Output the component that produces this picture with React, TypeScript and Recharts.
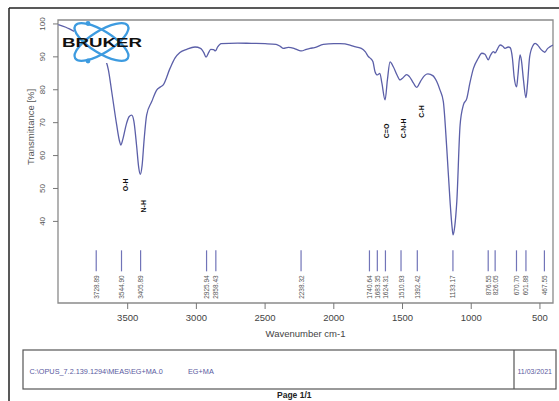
import React from 'react';
import { ComposedChart, Line, XAxis, YAxis, Scatter, ReferenceArea, Label } from 'recharts';

const wavenumbers = [
  4005, 3950, 3900, 3850, 3800, 3728, 3700, 3665, 3640, 3616, 3580, 3560, 3550, 3535, 3510, 3490, 3471,
  3455, 3435, 3420, 3408, 3395, 3380, 3362, 3325, 3289, 3260, 3241, 3192, 3156, 3120, 3070, 3010, 2970,
  2945, 2930, 2912, 2896, 2875, 2862, 2845, 2820, 2700, 2600, 2500, 2420, 2390, 2367, 2331, 2290, 2250,
  2235, 2200, 2173, 2140, 2076, 2000, 1955, 1882, 1840, 1800, 1770, 1749, 1735, 1715, 1700, 1683, 1665,
  1650, 1627, 1610, 1591, 1567, 1540, 1518, 1500, 1470, 1450, 1420, 1397, 1370, 1340, 1315, 1280, 1251,
  1227, 1203, 1178, 1154, 1140, 1132, 1120, 1105, 1081, 1057, 1032, 1010, 984, 950, 923, 900, 876, 860,
  839, 826, 810, 790, 770, 754, 730, 717, 700, 688, 670, 660, 645, 635, 620, 602, 590, 575, 550, 535,
  515, 499, 480, 465, 445, 426, 405,
];
const transmittance = [
  99.8, 99.0, 98.0, 97.2, 96.3, 93.8, 92.6, 89.6, 86.0, 79.4, 69.3, 64.5, 63.2, 65.0, 69.5, 71.8, 72.3,
  70.5, 63.0, 56.5, 54.3, 57.0, 65.0, 72.3, 76.4, 79.9, 80.9, 81.5, 86.5, 89.6, 91.3, 92.3, 93.0, 92.6,
  91.2, 89.9, 91.2, 92.3, 92.2, 91.8, 93.0, 94.0, 94.2, 94.1, 94.0, 93.8, 93.2, 92.6, 92.9, 92.6, 91.9,
  91.8, 92.3, 92.6, 92.8, 93.8, 94.0, 94.0, 93.6, 93.0, 92.6, 91.5, 90.1, 89.6, 88.5, 85.5, 84.5, 85.0,
  82.0, 76.9, 83.0, 88.5, 87.0, 84.5, 83.0, 83.5, 84.6, 84.0, 82.0, 80.7, 82.5, 84.3, 84.8, 84.3, 82.5,
  79.9, 76.4, 62.2, 46.0, 38.5, 35.9, 38.5, 46.0, 69.3, 75.4, 77.4, 82.0, 86.5, 89.5, 91.1, 90.8, 89.1, 90.5,
  91.6, 91.2, 92.3, 93.6, 93.2, 92.6, 93.0, 92.8, 89.5, 84.0, 80.9, 84.5, 90.6, 89.0, 83.0, 77.6, 82.0, 90.0, 93.5, 94.1,
  93.5, 92.6, 91.8, 91.4, 92.5, 93.1, 93.6,
];

const peakPositions = [
  3728.89, 3544.9, 3405.89, 2925.94, 2858.43, 2238.32, 1740.64, 1683.35, 1624.31, 1510.93, 1392.42,
  1133.17, 876.55, 826.05, 670.7, 601.88, 467.55,
];
const peakLabels = [
  '3728.89', '3544.90', '3405.89', '2925.94', '2858.43', '2238.32', '1740.64', '1683.35', '1624.31',
  '1510.93', '1392.42', '1133.17', '876.55', '826.05', '670.70', '601.88', '467.55',
];

const bandNames = ['O-H', 'N-H', 'C=O', 'C-N-H', 'C-H'];
const bandWavenumbers = [3519, 3386, 1615, 1494, 1360];
const bandLevels = [51.1, 44.6, 67.5, 68.3, 73.4];

const xTicks = [3500, 3000, 2500, 2000, 1500, 1000, 500];
const yTicks = [40, 50, 60, 70, 80, 90, 100];

const X_MIN = 405;
const X_MAX = 4007;
const Y_MIN = 15.2;
const Y_MAX = 101.2;
const PEAK_LINE_TOP = 31.2;

const FONT = '"Liberation Sans", Arial, sans-serif';
const CURVE = '#5b5fa8';

const spectrum = wavenumbers.map((x, i) => ({ x, y: transmittance[i] }));
const peaks = peakPositions.map((x, i) => ({ x, y: PEAK_LINE_TOP, label: peakLabels[i] }));
const bands = bandNames.map((name, i) => ({ x: bandWavenumbers[i], y: bandLevels[i], label: name }));

const YTick = (p: any) => {
  const x = p.x - 8;
  return (
    <text
      x={x}
      y={p.y}
      transform={`rotate(-90 ${x} ${p.y})`}
      textAnchor="middle"
      dominantBaseline="central"
      fontSize={8}
      fontFamily={FONT}
      fill="#555"
    >
      {p.payload.value}
    </text>
  );
};

const PeakMark = (p: any) => {
  const { cx, cy, payload } = p;
  const ty = cy + 25;
  return (
    <g>
      <line x1={cx} y1={cy} x2={cx} y2={cy + 21} stroke="#7174b8" strokeWidth={1.2} />
      <text
        x={cx}
        y={ty}
        transform={`rotate(-90 ${cx} ${ty})`}
        textAnchor="end"
        dominantBaseline="central"
        fontSize={6.5}
        fontFamily={FONT}
        fill="#555"
      >
        {payload.label}
      </text>
    </g>
  );
};

const BandMark = (p: any) => {
  const { cx, cy, payload } = p;
  return (
    <text
      x={cx}
      y={cy}
      transform={`rotate(-90 ${cx} ${cy})`}
      textAnchor="middle"
      dominantBaseline="central"
      fontSize={7}
      fontWeight="bold"
      fontFamily={FONT}
      fill="#111"
    >
      {payload.label}
    </text>
  );
};

export default function App() {
  return (
    <div style={{ position: 'absolute', left: 0, top: 0, width: 559, height: 401, background: '#fff', overflow: 'hidden' }}>
      <ComposedChart
        width={559}
        height={401}
        margin={{ top: 20, right: 6, bottom: 58, left: 28 }}
      >
        <XAxis
          type="number"
          dataKey="x"
          domain={[X_MIN, X_MAX]}
          reversed
          allowDataOverflow
          ticks={xTicks}
          height={40}
          axisLine={false}
          tickSize={6}
          tickMargin={5}
          tickLine={{ stroke: '#777' }}
          tick={{ fontSize: 9.5, fill: '#444', fontFamily: FONT }}
        >
          <Label
            content={(lp: any) => {
              const vb = lp.viewBox || {};
              return (
                <text
                  x={vb.x + vb.width / 2}
                  y={vb.y + 30}
                  textAnchor="middle"
                  dominantBaseline="central"
                  fontSize={9.5}
                  fontFamily={FONT}
                  fill="#444"
                >
                  Wavenumber cm-1
                </text>
              );
            }}
          />
        </XAxis>
        <YAxis
          type="number"
          dataKey="y"
          domain={[Y_MIN, Y_MAX]}
          allowDataOverflow
          ticks={yTicks}
          width={30}
          axisLine={false}
          tickSize={5}
          tickLine={{ stroke: '#777' }}
          tick={<YTick />}
        >
          <Label
            content={(lp: any) => {
              const vb = lp.viewBox || {};
              const x = vb.x + 2;
              const y = vb.y + 107;
              return (
                <text
                  x={x}
                  y={y}
                  transform={`rotate(-90 ${x} ${y})`}
                  textAnchor="middle"
                  dominantBaseline="central"
                  fontSize={9.5}
                  fontFamily={FONT}
                  fill="#555"
                >
                  Transmittance [%]
                </text>
              );
            }}
          />
        </YAxis>
        <ReferenceArea
          x1={X_MIN}
          x2={X_MAX}
          y1={Y_MIN}
          y2={Y_MAX}
          fill="none"
          stroke="#8a8a8a"
          strokeWidth={1.3}
          ifOverflow="visible"
        />
        <Line
          data={spectrum}
          dataKey="y"
          type="monotone"
          stroke={CURVE}
          strokeWidth={1.3}
          dot={false}
          activeDot={false}
          isAnimationActive={false}
        />
        <Scatter data={peaks} dataKey="y" shape={<PeakMark />} isAnimationActive={false} />
        <Scatter data={bands} dataKey="y" shape={<BandMark />} isAnimationActive={false} />
      </ComposedChart>

      <svg
        width={559}
        height={401}
        style={{ position: 'absolute', left: 0, top: 0, pointerEvents: 'none' }}
      >
        {/* page border */}
        <line x1={9} y1={8} x2={559} y2={8} stroke="#222" strokeWidth={1.5} />
        <line x1={9} y1={8} x2={9} y2={401} stroke="#222" strokeWidth={1.5} />
        {/* logo */}
        <rect x={74} y={21} width={34} height={42} fill="#fff" />
        <g fill="none" stroke="#3d9be0" strokeWidth={2.3}>
          <ellipse cx={101.5} cy={42} rx={31} ry={11} transform="rotate(32 101.5 42)" />
          <ellipse cx={101.5} cy={42} rx={31} ry={11} transform="rotate(-32 101.5 42)" />
        </g>
        <circle cx={88} cy={23.5} r={2.4} fill="#3d9be0" />
        <circle cx={88} cy={61} r={2.4} fill="#3d9be0" />
        <text
          x={62}
          y={46.8}
          fontSize={13}
          fontWeight={900}
          fontFamily={FONT}
          fill="#111"
          textLength={80}
          lengthAdjust="spacingAndGlyphs"
        >
          BRUKER
        </text>
        {/* bottom info box */}
        <rect x={23} y={350} width={533} height={39} fill="none" stroke="#555" strokeWidth={1.2} />
        <line x1={514} y1={350} x2={514} y2={389} stroke="#555" strokeWidth={1.2} />
        <text x={29.5} y={371} fontSize={7.3} fontFamily={FONT} fill="#5a5aa0" dominantBaseline="central">
          C:\OPUS_7.2.139.1294\MEAS\EG+MA.0
        </text>
        <text x={188} y={371} fontSize={7.3} fontFamily={FONT} fill="#5a5aa0" dominantBaseline="central">
          EG+MA
        </text>
        <text x={517.5} y={371} fontSize={7} fontFamily={FONT} fill="#5a5aa0" dominantBaseline="central">
          11/03/2021
        </text>
        <text x={277} y={398} fontSize={8.5} fontWeight="bold" fontFamily={FONT} fill="#222">
          Page 1/1
        </text>
      </svg>
    </div>
  );
}
